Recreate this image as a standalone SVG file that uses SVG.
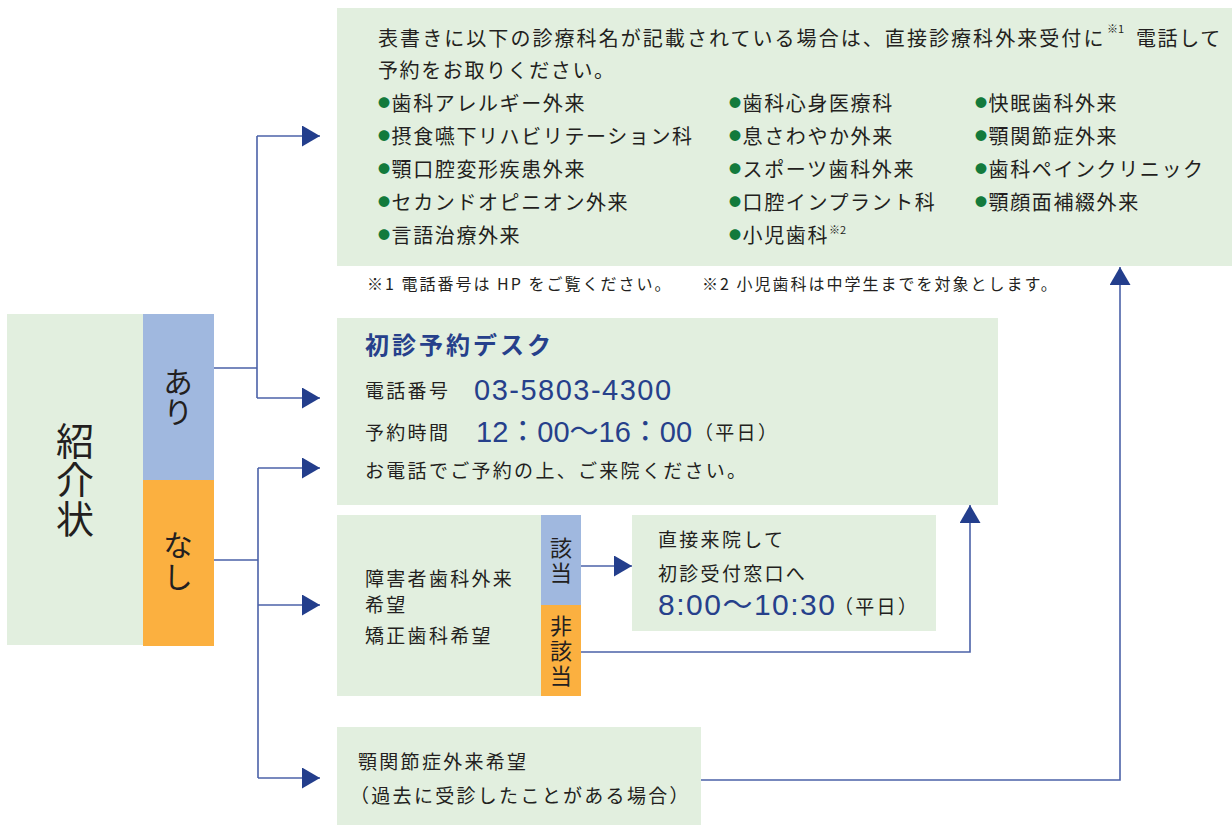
<svg xmlns="http://www.w3.org/2000/svg" width="1232" height="825" viewBox="0 0 1232 825">
<defs>
<marker id="ah" markerUnits="userSpaceOnUse" markerWidth="19" markerHeight="22" refX="18" refY="10.5" orient="auto">
<path d="M0,0 L18,10.5 L0,21 Z" fill="#233e8c"/>
</marker>
<style>
.box{fill:#e2efdf}
.blu{fill:#a0b8df}
.org{fill:#fbb040}
.t{font-family:"Noto Sans CJK JP","Noto Sans CJK SC",sans-serif;fill:#231f20}
.v{writing-mode:vertical-rl;text-anchor:middle}
.m{font-size:20px;letter-spacing:1.6px}
.s{font-size:19px;letter-spacing:2.3px}
.fn{font-size:16px;letter-spacing:2px}
.b{fill:#137a3c;font-size:12px}
.num{font-family:"Liberation Sans","Noto Sans CJK JP",sans-serif;fill:#26408b}
.ttl{fill:#26408b;font-weight:bold;font-size:24px;letter-spacing:3px}
.ln{fill:none;stroke:#4b62a8;stroke-width:1.6}
.ar{marker-end:url(#ah)}
</style>
</defs>
<rect width="1232" height="825" fill="#ffffff"/>

<g id="connectors">
<path class="ln" d="M214,368 H257 M257,136 V398"/>
<path class="ln ar" d="M257,136 H320"/>
<path class="ln ar" d="M257,398 H320"/>
<path class="ln" d="M214,560 H258 M258,468 V778"/>
<path class="ln ar" d="M258,468 H320"/>
<path class="ln ar" d="M258,605 H320"/>
<path class="ln ar" d="M258,778 H320"/>
<path class="ln ar" d="M581,566 H632"/>
<path class="ln ar" d="M581,652 H970 V505"/>
<path class="ln ar" d="M701,780 H1120 V267"/>
</g>

<g id="shoukaijou">
<rect class="box" x="7" y="314" width="136" height="331"/>
<text class="t v" x="75" y="480" font-size="38" letter-spacing="1">紹介状</text>
</g>

<g id="ari">
<rect class="blu" x="143" y="314" width="71" height="166"/>
<text class="t v" x="178" y="397" font-size="30">あり</text>
</g>

<g id="nashi">
<rect class="org" x="143" y="480" width="71" height="166"/>
<text class="t v" x="178" y="562" font-size="30" letter-spacing="2">なし</text>
</g>

<g id="top-box">
<rect class="box" x="337" y="8" width="895" height="258"/>
<text class="t m" x="378" y="46" textLength="727" lengthAdjust="spacing">表書きに以下の診療科名が記載されている場合は、直接診療科外来受付に</text>
<text class="t" x="1107" y="33" font-size="11">※1</text>
<text class="t m" x="1136" y="46">電話して</text>
<text class="t m" x="378" y="78">予約をお取りください。</text>
<text class="t m" x="378" y="111"><tspan class="b" dy="-3">●</tspan><tspan dy="3">歯科アレルギー外来</tspan></text>
<text class="t m" x="378" y="144"><tspan class="b" dy="-3">●</tspan><tspan dy="3">摂食嚥下リハビリテーション科</tspan></text>
<text class="t m" x="378" y="177"><tspan class="b" dy="-3">●</tspan><tspan dy="3">顎口腔変形疾患外来</tspan></text>
<text class="t m" x="378" y="210"><tspan class="b" dy="-3">●</tspan><tspan dy="3">セカンドオピニオン外来</tspan></text>
<text class="t m" x="378" y="243"><tspan class="b" dy="-3">●</tspan><tspan dy="3">言語治療外来</tspan></text>
<text class="t m" x="729" y="111"><tspan class="b" dy="-3">●</tspan><tspan dy="3">歯科心身医療科</tspan></text>
<text class="t m" x="729" y="144"><tspan class="b" dy="-3">●</tspan><tspan dy="3">息さわやか外来</tspan></text>
<text class="t m" x="729" y="177"><tspan class="b" dy="-3">●</tspan><tspan dy="3">スポーツ歯科外来</tspan></text>
<text class="t m" x="729" y="210"><tspan class="b" dy="-3">●</tspan><tspan dy="3">口腔インプラント科</tspan></text>
<text class="t m" x="729" y="243"><tspan class="b" dy="-3">●</tspan><tspan dy="3">小児歯科</tspan><tspan font-size="11" dy="-9" letter-spacing="0">※2</tspan></text>
<text class="t m" x="975" y="111"><tspan class="b" dy="-3">●</tspan><tspan dy="3">快眠歯科外来</tspan></text>
<text class="t m" x="975" y="144"><tspan class="b" dy="-3">●</tspan><tspan dy="3">顎関節症外来</tspan></text>
<text class="t m" x="975" y="177"><tspan class="b" dy="-3">●</tspan><tspan dy="3">歯科ペインクリニック</tspan></text>
<text class="t m" x="975" y="210"><tspan class="b" dy="-3">●</tspan><tspan dy="3">顎顔面補綴外来</tspan></text>
</g>

<g id="footnotes">
<text class="t fn" x="367" y="290">※1 電話番号は HP をご覧ください。</text>
<text class="t fn" x="702" y="290">※2 小児歯科は中学生までを対象とします。</text>
</g>

<g id="desk">
<rect class="box" x="337" y="318" width="661" height="187"/>
<text class="t ttl" x="365" y="354">初診予約デスク</text>
<text class="t s" x="365" y="398">電話番号</text>
<text class="num" x="474" y="400" font-size="29" letter-spacing="1.5">03-5803-4300</text>
<text class="t s" x="365" y="440">予約時間</text>
<text class="num" x="476" y="442" font-size="29">12：00〜16：00</text>
<text class="t s" x="694" y="440">（平日）</text>
<text class="t s" x="365" y="478">お電話でご予約の上、ご来院ください。</text>
</g>

<g id="special">
<rect class="box" x="337" y="515" width="204" height="181"/>
<text class="t s" x="365" y="586">障害者歯科外来</text>
<text class="t s" x="365" y="612">希望</text>
<text class="t s" x="365" y="643">矯正歯科希望</text>
</g>

<g id="gaitou">
<rect class="blu" x="541" y="515" width="40" height="90"/>
<text class="t v" x="561" y="562" font-size="22" letter-spacing="3">該当</text>
</g>

<g id="higaitou">
<rect class="org" x="541" y="605" width="40" height="91"/>
<text class="t v" x="561" y="652" font-size="22" letter-spacing="3">非該当</text>
</g>

<g id="direct">
<rect class="box" x="632" y="515" width="304" height="116"/>
<text class="t s" x="658" y="547">直接来院して</text>
<text class="t s" x="658" y="581">初診受付窓口へ</text>
<text class="num" x="658" y="615" font-size="30" letter-spacing="1.5">8:00〜10:30</text>
<text class="t s" x="834" y="614">（平日）</text>
</g>

<g id="tmj">
<rect class="box" x="337" y="727" width="364" height="98"/>
<text class="t s" x="358" y="769">顎関節症外来希望</text>
<text class="t s" x="350" y="803">（過去に受診したことがある場合）</text>
</g>
</svg>
